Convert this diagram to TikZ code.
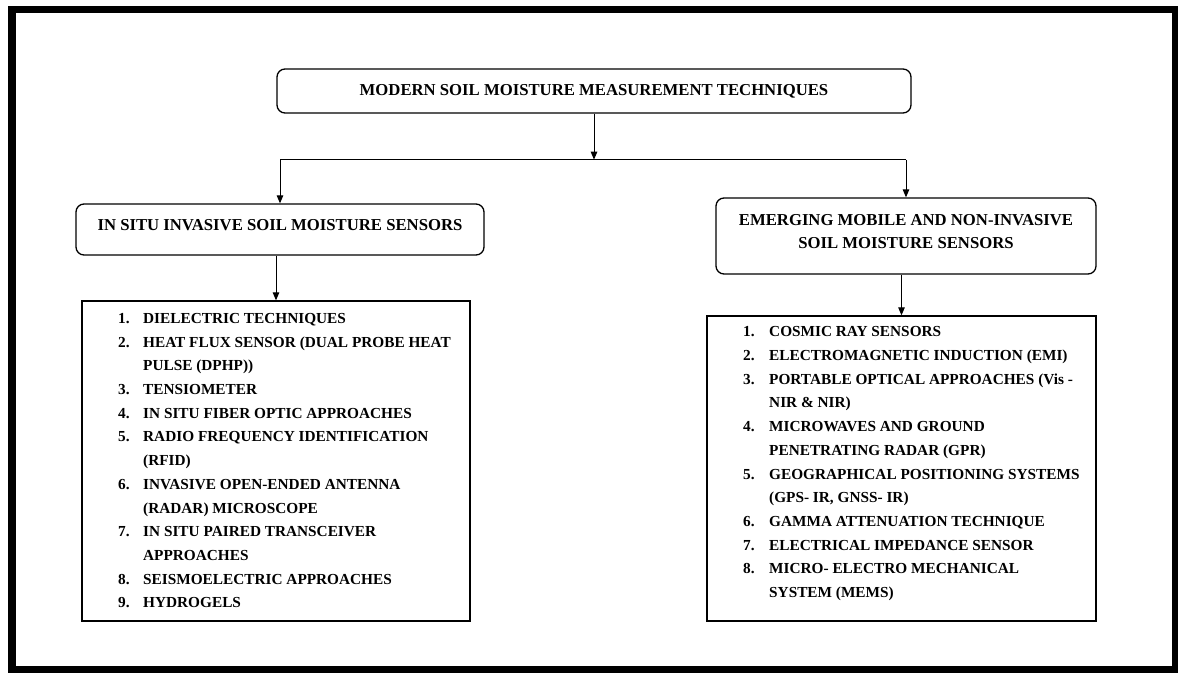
\documentclass[tikz,border=0pt]{standalone}
\usepackage{fontspec}
\setmainfont{Liberation Serif}
\usetikzlibrary{arrows.meta}
\tikzset{
  frame/.style={draw=black, line width=7.5pt},
  headbox/.style={draw, line width=1.3pt, rounded corners=8pt, inner sep=0pt},
  listbox/.style={draw, line width=1.3pt, inner sep=0pt},
  headtext/.style={font=\fontsize{16.7}{23.3}\selectfont\bfseries, inner sep=0pt, anchor=base},
  itemtext/.style={font=\fontsize{15.3}{23.7}\selectfont\bfseries, inner sep=0pt, anchor=base west},
  conn/.style={draw, line width=1pt},
  arr/.style={conn, -{Triangle[length=8pt,width=6.5pt]}},
}
\begin{document}
\begin{tikzpicture}[x=1pt,y=-1pt]
\useasboundingbox (0,0) rectangle (1178,675);

% outer border
\draw[frame] (12,9.5) rectangle (1175.5,669.5);

% heading boxes
\node[headbox, minimum width=634pt, minimum height=44pt] (top) at (594,91) {};
\node[headtext] (toptxt) at (594,95.5) {MODERN SOIL MOISTURE MEASUREMENT TECHNIQUES};

\node[headbox, minimum width=408pt, minimum height=51pt] (insitu) at (280,229.5) {};
\node[headtext] (insitutxt) at (280,230.5) {IN SITU INVASIVE SOIL MOISTURE SENSORS};

\node[headbox, minimum width=380pt, minimum height=76pt] (emerg) at (906,236) {};
\node[headtext] (emergtxtA) at (906,225.5) {EMERGING MOBILE AND NON-INVASIVE};
\node[headtext] (emergtxtB) at (906,248.5) {SOIL MOISTURE SENSORS};

% list boxes
\node[listbox, minimum width=388pt, minimum height=320pt] (listA) at (276,461) {};
\node[listbox, minimum width=389pt, minimum height=305pt] (listB) at (901.5,468.5) {};

% left list
\foreach \k [count=\n] in {0,1,3,4,5,7,9,11,12}
  \node[itemtext] (An\n) at ({118},{323.4+23.7*\k}) {\n.};
\foreach \k/\t in {
  0/DIELECTRIC TECHNIQUES,
  1/HEAT FLUX SENSOR (DUAL PROBE HEAT,
  2/PULSE (DPHP)),
  3/TENSIOMETER,
  4/IN SITU FIBER OPTIC APPROACHES,
  5/RADIO FREQUENCY IDENTIFICATION,
  6/(RFID),
  7/INVASIVE OPEN-ENDED ANTENNA,
  8/(RADAR) MICROSCOPE,
  9/IN SITU PAIRED TRANSCEIVER,
  10/APPROACHES,
  11/SEISMOELECTRIC APPROACHES,
  12/HYDROGELS}
  \node[itemtext] (At\k) at ({143},{323.4+23.7*\k}) {\t};

% right list
\foreach \k [count=\n] in {0,1,2,4,6,8,9,10}
  \node[itemtext] (Bn\n) at ({743},{336.8+23.7*\k}) {\n.};
\foreach \k/\t in {
  0/COSMIC RAY SENSORS,
  1/ELECTROMAGNETIC INDUCTION (EMI),
  2/PORTABLE OPTICAL APPROACHES (Vis -,
  3/NIR \& NIR),
  4/MICROWAVES AND GROUND,
  5/PENETRATING RADAR (GPR),
  6/GEOGRAPHICAL POSITIONING SYSTEMS,
  {7/(GPS- IR, GNSS- IR)},
  8/GAMMA ATTENUATION TECHNIQUE,
  9/ELECTRICAL IMPEDANCE SENSOR,
  10/MICRO- ELECTRO MECHANICAL,
  11/SYSTEM (MEMS)}
  \node[itemtext] (Bt\k) at ({769},{336.8+23.7*\k}) {\t};

% connectors
\path (top.south) ++(0,46) coordinate (split);
\coordinate (lc) at (insitu.north |- split);
\coordinate (rc) at (emerg.north |- split);
\draw[arr] (top.south) -- (split);
\draw[conn] (lc) -- (rc);
\draw[arr] (lc) -- (insitu.north);
\draw[arr] (rc) -- (emerg.north);
\draw[arr] (listA.north |- insitu.south) -- (listA.north);
\draw[arr] (listB.north |- emerg.south) -- (listB.north);
\end{tikzpicture}
\end{document}
